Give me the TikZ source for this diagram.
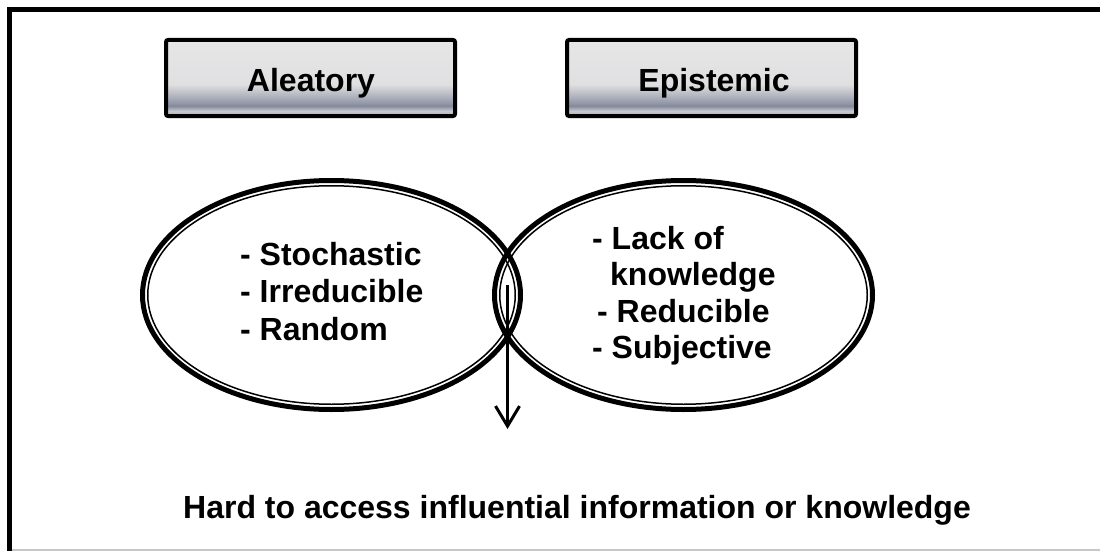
\documentclass[tikz,border=0pt]{standalone}
\usepackage{fontspec}
\setmainfont{Liberation Sans}
\usetikzlibrary{arrows.meta}
\definecolor{shtop}{HTML}{E6E6E6}
\definecolor{shlight}{HTML}{E0E0E2}
\definecolor{shmid}{HTML}{A9ACB8}
\definecolor{shdark}{HTML}{858A9C}
\definecolor{shpale}{HTML}{C8C9D0}
\definecolor{shbot}{HTML}{A8ABB8}
\pgfdeclareverticalshading{boxshade}{100bp}{color(0bp)=(shbot); color(25bp)=(shbot); color(28.3bp)=(shpale); color(31.6bp)=(shdark); color(36.8bp)=(shmid); color(46bp)=(shlight); color(75bp)=(shtop); color(100bp)=(shtop)}
\tikzset{
  catbox/.style={draw=black, line width=4pt, rounded corners=2pt, shading=boxshade, minimum width=289pt, minimum height=76pt, inner sep=0pt},
  lbl/.style={font=\fontsize{32}{38}\selectfont\bfseries, inner sep=0pt, anchor=base},
  item/.style={font=\fontsize{32}{38}\selectfont\bfseries, inner sep=0pt, anchor=base west},
  thickring/.style={line width=5pt},
  thinring/.style={line width=1.5pt},
  arr/.style={line width=3pt, -{Straight Barb[length=20pt,width=24pt,line width=3pt]}}
}
\begin{document}
\begin{tikzpicture}[x=1pt,y=-1pt]
\useasboundingbox (0,0) rectangle (1100,551);
\fill[white] (0,0) rectangle (1100,551);
\begin{scope}
\clip (0,0) rectangle (1100,551);
\draw[line width=5pt] (9.5,9.5) rectangle (1120,580);
\draw[black!22, line width=1.2pt] (12,550) -- (1100,550);
\end{scope}
% category boxes
\node[catbox] (alebox) at (310.5,78) {};
\node[catbox] (epibox) at (711.5,78) {};
\node[lbl] (aletxt) at (311,91) {Aleatory};
\node[lbl] (epitxt) at (714,91) {Epistemic};
% ellipses
\draw[thickring] (331.5,295) ellipse [x radius=189pt, y radius=114.5pt];
\draw[thinring] (331.5,295) ellipse [x radius=183.75pt, y radius=109.25pt];
\draw[thickring] (683.5,295) ellipse [x radius=189pt, y radius=114.5pt];
\draw[thinring] (683.5,295) ellipse [x radius=183.75pt, y radius=109.25pt];
% left items
\node[item] (l1) at (240,265) {- Stochastic};
\node[item] (l2) at (240,302) {- Irreducible};
\node[item] (l3) at (240,340) {- Random};
% right items
\node[item] (r1) at (592,249) {- Lack of};
\node[item] (r2) at (610,285) {knowledge};
\node[item] (r3) at (597,322) {- Reducible};
\node[item] (r4) at (592,358) {- Subjective};
% arrow and conclusion
\coordinate (astart) at (507.5,285);
\node[lbl] (bottom) at (577,518) {Hard to access influential information or knowledge};
\coordinate (aend) at (507.5,429);
\draw[arr] (astart) -- (aend);
\end{tikzpicture}
\end{document}
